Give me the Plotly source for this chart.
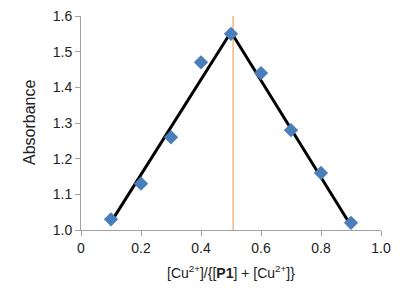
import plotly.graph_objects as go

ratio = [0.1, 0.2, 0.3, 0.4, 0.5, 0.6, 0.7, 0.8, 0.9]
absorbance = [1.03, 1.13, 1.26, 1.47, 1.55, 1.44, 1.28, 1.16, 1.02]

fit_x = [0.1, 0.5, 0.9]
fit_y = [1.022, 1.555, 1.012]

vline_x = [0.507, 0.507]
vline_y = [1.0, 1.6]

xtick_vals = [0, 0.2, 0.4, 0.6, 0.8, 1.0]
xtick_text = ["0", "0.2", "0.4", "0.6", "0.8", "1.0"]
ytick_vals = [1.0, 1.1, 1.2, 1.3, 1.4, 1.5, 1.6]
ytick_text = ["1.0", "1.1", "1.2", "1.3", "1.4", "1.5", "1.6"]

fig = go.Figure()
fig.add_trace(go.Scatter(x=vline_x, y=vline_y, mode="lines",
                         line=dict(color="#f4a460", width=1.2), showlegend=False))
fig.add_trace(go.Scatter(x=fit_x, y=fit_y, mode="lines",
                         line=dict(color="black", width=3), showlegend=False))
fig.add_trace(go.Scatter(x=ratio, y=absorbance, mode="markers",
                         marker=dict(symbol="diamond", size=11, color="#4a7ebb"),
                         showlegend=False, cliponaxis=False))

axis_font = dict(family="Liberation Sans, Arial, sans-serif", size=14, color="#222")
ytitle_font = dict(family="Liberation Sans, Arial, sans-serif", size=16, color="#222")
fig.update_layout(
    width=413, height=296,
    margin=dict(l=73, r=40, t=8, b=74),
    plot_bgcolor="white", paper_bgcolor="white",
    font=axis_font,
    xaxis=dict(range=[0, 1.0], tickvals=xtick_vals, ticktext=xtick_text,
               showgrid=False, zeroline=False, showline=True, linecolor="#a0a0a0",
               linewidth=1, ticks="outside", ticklen=5, tickcolor="#a0a0a0",
               automargin=False, ticklabeloverflow="allow"),
    yaxis=dict(range=[1.0, 1.6], tickvals=ytick_vals, ticktext=ytick_text,
               showgrid=False, zeroline=False, showline=True, linecolor="#a0a0a0",
               linewidth=1, ticks="outside", ticklen=5, tickcolor="#a0a0a0",
               automargin=False, ticklabeloverflow="allow"),
    annotations=[
        dict(text="[Cu<sup>2+</sup>]/{[<b>P1</b>] + [Cu<sup>2+</sup>]}",
             xref="paper", yref="paper", x=0.5, y=0, xanchor="center",
             yanchor="middle", yshift=-42, showarrow=False, font=axis_font),
        dict(text="Absorbance", xref="paper", yref="paper", x=0, y=0.5,
             xanchor="center", yanchor="middle", xshift=-52, textangle=-90,
             showarrow=False, font=ytitle_font),
    ],
)
fig.write_html("out.html")
